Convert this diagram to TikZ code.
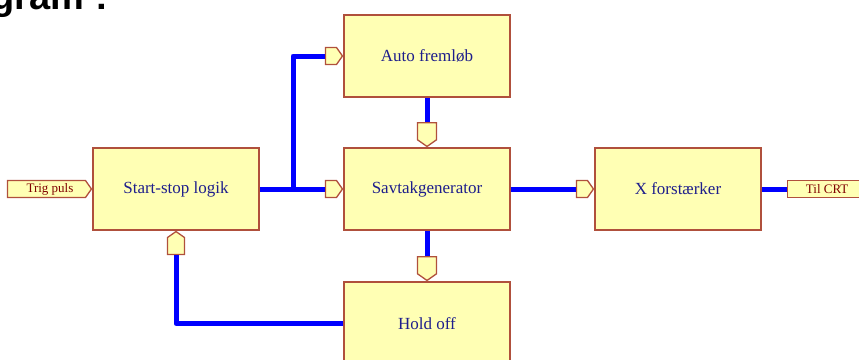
\documentclass[tikz,border=0pt]{standalone}
\usepackage{fontspec}
\setmainfont{Liberation Serif}
\newfontfamily\titlefont{Liberation Sans}
\usetikzlibrary{shapes.symbols}
\definecolor{boxfill}{RGB}{255,255,180}
\definecolor{boxedge}{RGB}{176,80,60}
\definecolor{boxtext}{RGB}{30,30,140}
\definecolor{porttext}{RGB}{128,0,0}
\definecolor{wire}{RGB}{0,0,255}
\tikzset{
  blk/.style={draw=boxedge, fill=boxfill, line width=1.5pt, minimum width=166pt, minimum height=82pt,
    inner sep=0pt, text=boxtext, font=\fontsize{17}{20}\selectfont},
  portin/.style={signal, draw=boxedge, fill=boxfill, line width=1.3pt, inner sep=0pt,
    minimum width=17pt, minimum height=17pt, signal pointer angle=110},
  extlabel/.style={draw=boxedge, fill=boxfill, line width=1.3pt, inner sep=0pt,
    minimum height=17pt, text=porttext, font=\fontsize{13}{15}\selectfont},
  conn/.style={draw=wire, line width=5pt, line join=round}
}
\begin{document}
\begin{tikzpicture}[x=1pt,y=-1pt]
\useasboundingbox (0,0) rectangle (859,359);
\clip (0,0) rectangle (859,359);
\node[anchor=base east, inner sep=0pt, font=\titlefont\bfseries\fontsize{38}{40}\selectfont] (title) at (108,9) {Diagram :};
% blocks
\node[blk] (ss) at (176,189) {Start-stop logik};
\node[blk] (auto) at (427,56) {Auto fremløb};
\node[blk] (sav) at (427,189) {Savtakgenerator};
\node[blk] (xf) at (678,189) {X forstærker};
\node[blk, minimum height=83pt] (hold) at (427,323.5) {Hold off};
% external labels
\node[extlabel, signal, signal to=east, signal pointer angle=110, minimum width=84pt, anchor=east] (trig) at (ss.west) {\hspace*{7pt}Trig puls};
\coordinate (crtin) at (787,189);
\node[extlabel, minimum width=79pt, anchor=west] (crt) at (crtin) {Til CRT};
% ports
\node[portin, signal to=east, anchor=east] (p1) at (sav.west) {};
\node[portin, signal to=east, anchor=east] (p2) at (auto.west) {};
\node[portin, signal to=south, minimum width=19pt, anchor=south] (p3) at (sav.north) {};
\node[portin, signal to=south, minimum width=19pt, anchor=south] (p4) at (hold.north) {};
\node[portin, signal to=north, anchor=north] (p5) at (ss.south) {};
\node[portin, signal to=east, anchor=east] (p6) at (xf.west) {};
% connectors
\coordinate (J) at (293,189);
\draw[conn] (ss.east) -- (p1.west);
\draw[conn] (J) |- (p2.west);
\draw[conn] (auto.south) -- (p3.north);
\draw[conn] (sav.south) -- (p4.north);
\draw[conn] (hold.west) -| (p5.south);
\draw[conn] (sav.east) -- (p6.west);
\draw[conn] (xf.east) -- (crt.west);
\end{tikzpicture}
\end{document}
